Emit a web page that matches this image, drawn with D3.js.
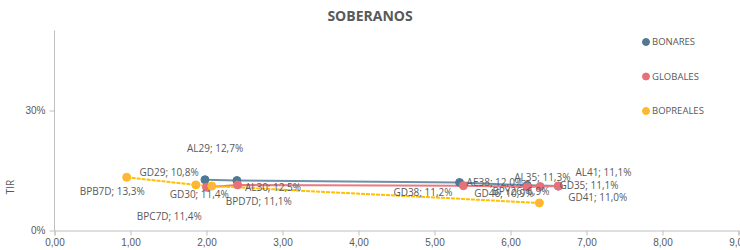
<!DOCTYPE html>
<html lang="es">
<head>
<meta charset="UTF-8" />
<title>Soberanos</title>
<style>
  body { margin: 0; background: #fff; }
  svg { display: block; font-family: "Open Sans", "Liberation Sans", sans-serif; }
  .tick text { fill: #595959; font-size: 10px; }
  .domain, .tick line { stroke: #bfbfbf; }
  .lbl { fill: #595959; font-size: 10px; }
  .leg { fill: #595959; font-size: 9.5px; }
</style>
</head>
<body>
<svg width="740" height="250"></svg>
<script src="https://d3js.org/d3.v7.min.js"></script>
<script>
  // duration (x) and TIR (y) per bond
  const bonaresNames = ["AL29", "AL30", "AE38", "AL35", "AL41"];
  const bonaresDur = [1.98, 2.40, 5.33, 6.22, 6.63];
  const bonaresTir = [0.127, 0.125, 0.120, 0.113, 0.111];

  const globalesNames = ["GD29", "GD30", "GD38", "GD46", "GD41", "GD35"];
  const globalesDur = [2.00, 2.41, 5.38, 6.22, 6.39, 6.63];
  const globalesTir = [0.108, 0.114, 0.112, 0.109, 0.110, 0.111];

  const bopNames = ["BPB7D", "BPC7D", "BPD7D", "BPY26"];
  const bopDur = [0.95, 1.86, 2.07, 6.38];
  const bopTir = [0.133, 0.114, 0.111, 0.069];

  const xTicks = [0, 1, 2, 3, 4, 5, 6, 7, 8, 9];
  const yTicks = [0, 0.3];

  // where Excel dropped each data label (offset from the point, px)
  const labelOffsets = {
    AL29: [-18, -31], AL30: [8, 7], AE38: [7, 0], AL35: [-13, -8], AL41: [17, -14],
    GD29: [-67, -15], GD30: [-68, 10], GD38: [-70, 7], GD46: [-53, 7], GD41: [28, 11], GD35: [1, -1],
    BPB7D: [-47, 14], BPC7D: [-59, 32], BPD7D: [14, 15], BPY26: [-47, -11]
  };

  const series = [
    { name: "BONARES", names: bonaresNames, dur: bonaresDur, tir: bonaresTir, line: "#6d90a6", fill: "#4f7a95", dash: null },
    { name: "GLOBALES", names: globalesNames, dur: globalesDur, tir: globalesTir, line: "#ea7a80", fill: "#e8707a", dash: null },
    { name: "BOPREALES", names: bopNames, dur: bopDur, tir: bopTir, line: "#ffc000", fill: "#ffb347", dash: "4,1" }
  ];

  const svg = d3.select("svg");
  const x = d3.scaleLinear().domain([0, 9]).range([54.5, 738.5]);
  const y = d3.scaleLinear().domain([0, 0.5]).range([230.5, 30.5]);

  svg.append("text")
    .attr("x", 370).attr("y", 21)
    .attr("text-anchor", "middle")
    .attr("fill", "#595959")
    .attr("font-size", 14).attr("font-weight", "bold")
    .text("SOBERANOS");

  svg.append("g")
    .attr("transform", "translate(0,230.5)")
    .call(d3.axisBottom(x).tickValues(xTicks).tickSize(5).tickPadding(3)
      .tickFormat(d => d3.format(".2f")(d).replace(".", ",")));

  svg.append("g")
    .attr("transform", "translate(54.5,0)")
    .call(d3.axisLeft(y).tickValues(yTicks).tickSize(5).tickPadding(4)
      .tickFormat(d => Math.round(d * 100) + "%"))
    .call(g => g.select(".domain").attr("d", `M0,${y(0.5)}V${y(0)}`));

  svg.append("text")
    .attr("transform", "translate(14,187) rotate(-90)")
    .attr("text-anchor", "middle")
    .attr("fill", "#595959").attr("font-size", 10)
    .text("TIR");

  const line = d3.line().x(d => x(d.d)).y(d => y(d.t));

  series.forEach(s => {
    const pts = s.names.map((n, i) => ({ n, d: s.dur[i], t: s.tir[i] }));
    s.pts = pts;
    svg.append("path")
      .datum(pts)
      .attr("d", line)
      .attr("fill", "none")
      .attr("stroke", s.line)
      .attr("stroke-width", 2)
      .attr("stroke-dasharray", s.dash);
  });

  series.forEach(s => {
    svg.append("g").selectAll("circle")
      .data(s.pts).join("circle")
      .attr("cx", d => x(d.d)).attr("cy", d => y(d.t))
      .attr("r", 4)
      .attr("fill", s.fill)
      .attr("stroke", s.name === "BOPREALES" ? "#ffc000" : s.fill)
      .attr("stroke-width", 1);
  });

  series.forEach(s => {
    svg.append("g").selectAll("text")
      .data(s.pts).join("text")
      .attr("class", "lbl")
      .attr("x", d => x(d.d) + labelOffsets[d.n][0])
      .attr("y", d => y(d.t) + labelOffsets[d.n][1])
      .attr("dy", "0.35em")
      .text(d => `${d.n}; ${d3.format(".1f")(d.t * 100).replace(".", ",")}%`);
  });

  const legend = svg.append("g").selectAll("g")
    .data(series).join("g")
    .attr("transform", (d, i) => `translate(646,${42 + i * 34.5})`);
  legend.append("circle").attr("r", 3.5)
    .attr("fill", d => d.fill)
    .attr("stroke", d => d.name === "BOPREALES" ? "#ffc000" : d.fill);
  legend.append("text").attr("class", "leg")
    .attr("x", 6).attr("dy", "0.35em")
    .text(d => d.name);
</script>
</body>
</html>
